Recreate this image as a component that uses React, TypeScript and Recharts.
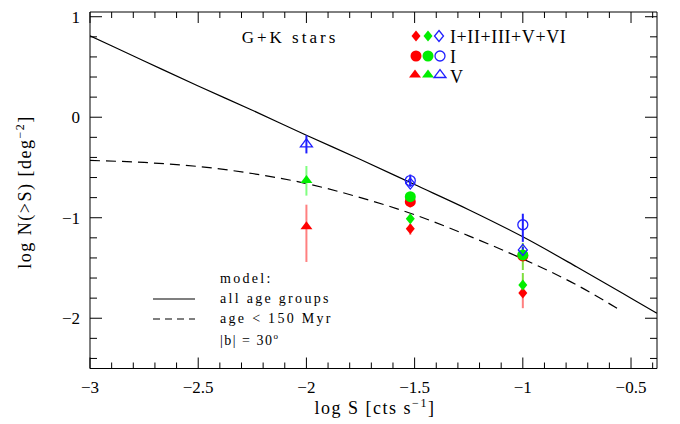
import { ComposedChart, Line, Scatter, ErrorBar, XAxis, YAxis } from 'recharts';

// model curves: log N(>S) vs log S
const modelX = [-3, -2.75, -2.5, -2.25, -2, -1.75, -1.5, -1.25, -1, -0.75, -0.5, -0.38];
const modelAllAges = [0.81, 0.56, 0.31, 0.07, -0.18, -0.42, -0.67, -0.92, -1.19, -1.49, -1.8, -1.95];
const youngX = [-3, -2.75, -2.5, -2.25, -2, -1.75, -1.5, -1.25, -1, -0.75, -0.55];
const modelYoung = [-0.43, -0.45, -0.49, -0.56, -0.66, -0.8, -0.97, -1.18, -1.41, -1.67, -1.92];

// I+II+III+V+VI (diamonds)
const allX = [-1.52, -1.0];
const allRed = [-1.11, -1.75];
const allRedLo = [-1.17, -1.9];
const allRedHi = [-1.06, -1.62];
const allGreen = [-1.01, -1.67];
const allGreenLo = [-1.05, -1.74];
const allGreenHi = [-0.97, -1.55];
const allBlue = [-0.66, -1.32];
const allBlueLo = [-0.69, -1.35];
const allBlueHi = [-0.63, -1.29];

// I (circles)
const iX = [-1.52, -1.0];
const iRed = [-0.84, -1.38];
const iRedLo = [-0.9, -1.42];
const iRedHi = [-0.8, -1.34];
const iGreen = [-0.79, -1.37];
const iGreenLo = [-0.82, -1.52];
const iGreenHi = [-0.76, -1.25];
const iBlue = [-0.63, -1.07];
const iBlueLo = [-0.69, -1.24];
const iBlueHi = [-0.57, -0.96];

// V (triangles)
const vX = [-2.0];
const vRed = [-1.08];
const vRedLo = [-1.44];
const vRedHi = [-0.87];
const vGreen = [-0.62];
const vGreenLo = [-0.78];
const vGreenHi = [-0.485];
const vBlue = [-0.26];
const vBlueLo = [-0.36];
const vBlueHi = [-0.18];

const xMajor = [-3, -2.5, -2, -1.5, -1, -0.5];
const yMajor = [1, 0, -1, -2];

const RED = '#ff0000';
const GREEN = '#00ee00';
const BLUE = '#2020ff';
const FONT = '"Liberation Serif", "DejaVu Serif", serif';

const xTicks: number[] = [];
for (let i = 0; i <= 26; i++) xTicks.push(Math.round((-3 + i * 0.1) * 10) / 10);
const yTicks: number[] = [];
for (let i = 0; i <= 17; i++) yTicks.push(Math.round((-2.4 + i * 0.2) * 10) / 10);

const curve = (xs: number[], ys: number[]) => xs.map((x, i) => ({ x, y: ys[i] }));
const pts = (xs: number[], ys: number[], lo: number[], hi: number[]) =>
    xs.map((x, i) => ({ x, y: ys[i], err: [ys[i] - lo[i], hi[i] - ys[i]] }));

const isMajorX = (v: number) => xMajor.some((m) => Math.abs(m - v) < 1e-6);
const isMajorY = (v: number) => yMajor.some((m) => Math.abs(m - v) < 1e-6);
const fmt = (v: number) => (v < 0 ? '\u2212' + String(Math.abs(v)) : String(v));

const BottomTick = ({ x, y, payload }: any) => {
    const major = isMajorX(payload.value);
    return (
        <g>
            <line x1={x} y1={y} x2={x} y2={y - (major ? 11 : 6)} stroke="#000" />
            {major && (
                <text x={x} y={y + 24} textAnchor="middle" fontFamily={FONT} fontSize={17} fill="#000">
                    {fmt(payload.value)}
                </text>
            )}
        </g>
    );
};
const TopTick = ({ x, y, payload }: any) => (
    <line x1={x} y1={y} x2={x} y2={y + (isMajorX(payload.value) ? 11 : 6)} stroke="#000" />
);
const LeftTick = ({ x, y, payload }: any) => {
    const major = isMajorY(payload.value);
    return (
        <g>
            <line x1={x} y1={y} x2={x + (major ? 12 : 7)} y2={y} stroke="#000" />
            {major && (
                <text x={x - 10} y={y + 6} textAnchor="end" fontFamily={FONT} fontSize={17} fill="#000">
                    {fmt(payload.value)}
                </text>
            )}
        </g>
    );
};
const RightTick = ({ x, y, payload }: any) => (
    <line x1={x} y1={y} x2={x - (isMajorY(payload.value) ? 12 : 7)} y2={y} stroke="#000" />
);

const diamond = (fill: string, stroke: string) => (p: any) => (
    <path
        d={`M${p.cx},${p.cy - 5.5}L${p.cx + 4.5},${p.cy}L${p.cx},${p.cy + 5.5}L${p.cx - 4.5},${p.cy}Z`}
        fill={fill}
        stroke={stroke}
        strokeWidth={1.3}
    />
);
const circle = (fill: string, stroke: string, r: number) => (p: any) => (
    <circle cx={p.cx} cy={p.cy} r={r} fill={fill} stroke={stroke} strokeWidth={1.3} />
);
const triangle = (fill: string, stroke: string) => (p: any) => (
    <path
        d={`M${p.cx - 6},${p.cy + 3.5}L${p.cx + 6},${p.cy + 3.5}L${p.cx},${p.cy - 4.5}Z`}
        fill={fill}
        stroke={stroke}
        strokeWidth={1.3}
    />
);

const series = [
    { data: pts(vX, vRed, vRedLo, vRedHi), shape: triangle(RED, 'none'), bar: '#ff8080' },
    { data: pts(vX, vGreen, vGreenLo, vGreenHi), shape: triangle(GREEN, 'none'), bar: '#80ff80' },
    { data: pts(vX, vBlue, vBlueLo, vBlueHi), shape: triangle('none', BLUE), bar: BLUE },
    { data: pts(allX, allRed, allRedLo, allRedHi), shape: diamond(RED, 'none'), bar: '#ff8080' },
    { data: pts(allX, allGreen, allGreenLo, allGreenHi), shape: diamond(GREEN, 'none'), bar: '#80dd40' },
    { data: pts(iX, iRed, iRedLo, iRedHi), shape: circle(RED, 'none', 5.5), bar: '#ff8080' },
    { data: pts(iX, iGreen, iGreenLo, iGreenHi), shape: circle(GREEN, 'none', 5.5), bar: '#80dd40' },
    { data: pts(allX, allBlue, allBlueLo, allBlueHi), shape: diamond('none', BLUE), bar: BLUE },
    { data: pts(iX, iBlue, iBlueLo, iBlueHi), shape: circle('none', BLUE, 5), bar: BLUE },
];

const txt = { fontFamily: FONT, fill: '#000' };

export default function App() {
    return (
        <div style={{ position: 'absolute', left: 0, top: 0, width: 680, height: 424, background: '#fff' }}>
            <ComposedChart width={680} height={424} margin={{ top: 11, right: 22, bottom: 0, left: 0 }}>
                <XAxis
                    xAxisId="b" dataKey="x" type="number" domain={[-3, -0.38]} ticks={xTicks} interval={0}
                    orientation="bottom" height={55.5} tickSize={0} tickMargin={0} tick={BottomTick}
                    axisLine={{ stroke: '#000' }} tickLine={false} allowDataOverflow
                />
                <XAxis
                    xAxisId="t" dataKey="x" type="number" domain={[-3, -0.38]} ticks={xTicks} interval={0}
                    orientation="top" height={1} tickSize={0} tickMargin={0} tick={TopTick}
                    axisLine={{ stroke: '#000' }} tickLine={false} allowDataOverflow
                />
                <YAxis
                    yAxisId="l" dataKey="y" type="number" domain={[-2.5, 1.047]} ticks={yTicks} interval={0}
                    orientation="left" width={90} tickSize={0} tickMargin={0} tick={LeftTick}
                    axisLine={{ stroke: '#000' }} tickLine={false} allowDataOverflow
                />
                <YAxis
                    yAxisId="r" dataKey="y" type="number" domain={[-2.5, 1.047]} ticks={yTicks} interval={0}
                    orientation="right" width={1} tickSize={0} tickMargin={0} tick={RightTick}
                    axisLine={{ stroke: '#000' }} tickLine={false} allowDataOverflow
                />
                <Line
                    xAxisId="b" yAxisId="l" data={curve(modelX, modelAllAges)} dataKey="y" type="monotone"
                    stroke="#000" strokeWidth={1.2} dot={false} isAnimationActive={false}
                />
                <Line
                    xAxisId="b" yAxisId="l" data={curve(youngX, modelYoung)} dataKey="y" type="monotone"
                    stroke="#000" strokeWidth={1.2} strokeDasharray="10 6" dot={false} isAnimationActive={false}
                />
                {series.map((s, i) => (
                    <Scatter
                        key={i} xAxisId="b" yAxisId="l" data={s.data} dataKey="y" shape={s.shape}
                        isAnimationActive={false}
                    >
                        <ErrorBar dataKey="err" direction="y" width={0} stroke={s.bar} strokeWidth={2} isAnimationActive={false} />
                    </Scatter>
                ))}
            </ComposedChart>
            <svg width={680} height={424} style={{ position: 'absolute', left: 0, top: 0, pointerEvents: 'none' }}>
                <text x={290} y={43} textAnchor="middle" fontSize={17} letterSpacing={3} {...txt}>G+K stars</text>

                <g>
                    {diamond(RED, 'none')({ cx: 416, cy: 36 })}
                    {diamond(GREEN, 'none')({ cx: 428, cy: 36 })}
                    {diamond('none', BLUE)({ cx: 439, cy: 36 })}
                    {circle(RED, 'none', 5.5)({ cx: 416, cy: 56 })}
                    {circle(GREEN, 'none', 5.5)({ cx: 428, cy: 56 })}
                    {circle('none', BLUE, 5)({ cx: 440, cy: 56 })}
                    {triangle(RED, 'none')({ cx: 415, cy: 74 })}
                    {triangle(GREEN, 'none')({ cx: 428, cy: 74 })}
                    {triangle('none', BLUE)({ cx: 440, cy: 74 })}
                </g>
                <text x={450} y={43} fontSize={18} letterSpacing={0.6} {...txt}>I+II+III+V+VI</text>
                <text x={450} y={63} fontSize={18} {...txt}>I</text>
                <text x={450} y={83} fontSize={18} {...txt}>V</text>

                <text x={220} y={283} fontSize={14} letterSpacing={2.3} {...txt}>model:</text>
                <line x1={153} y1={299} x2={195} y2={299} stroke="#000" strokeWidth={1.2} />
                <text x={220} y={303} fontSize={14} letterSpacing={2.3} {...txt}>all age groups</text>
                <line x1={153} y1={319} x2={195} y2={319} stroke="#000" strokeWidth={1.2} strokeDasharray="7 5" />
                <text x={220} y={323} fontSize={14} letterSpacing={2.3} {...txt}>age &lt; 150 Myr</text>
                <text x={220} y={345} fontSize={14} letterSpacing={1.5} {...txt}>
                    |b| = 30<tspan dy={-6} fontSize={9}>o</tspan>
                </text>

                <text x={375} y={414} textAnchor="middle" fontSize={18} letterSpacing={1.5} {...txt}>
                    log S [cts s<tspan dy={-7} fontSize={12}>{'\u22121'}</tspan><tspan dy={7}>]</tspan>
                </text>
                <text
                    transform="translate(31,192) rotate(-90)" textAnchor="middle" fontSize={18} letterSpacing={1.5} {...txt}
                >
                    log N(&gt;S) [deg<tspan dy={-7} fontSize={12}>{'\u22122'}</tspan><tspan dy={7}>]</tspan>
                </text>
            </svg>
        </div>
    );
}
